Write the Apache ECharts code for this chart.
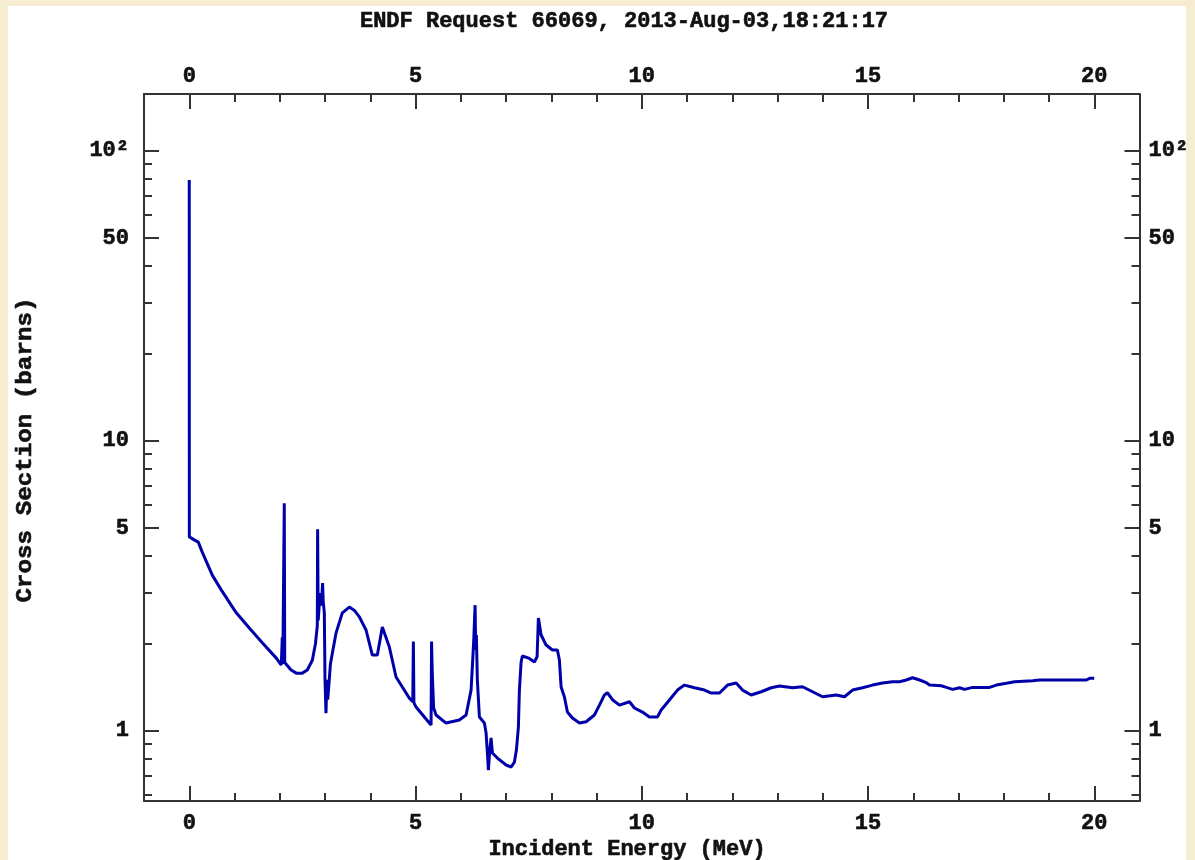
<!DOCTYPE html>
<html>
<head>
<meta charset="utf-8">
<title>ENDF Request 66069</title>
<script src="https://cdn.jsdelivr.net/npm/echarts@6/dist/echarts.min.js"></script>
<style>
  html, body { margin: 0; padding: 0; width: 1195px; height: 860px; overflow: hidden; background: #f6ecd0; }
  #panel { position: absolute; left: 8px; top: 6px; width: 1178px; height: 854px; background: #ffffff; }
  #chart { position: absolute; left: 0; top: 0; width: 1195px; height: 860px; }
</style>
</head>
<body>
<div id="panel"></div>
<div id="chart"></div>
<script>
// Incident neutron energy (MeV) and cross section (barns)
const energy = [
  0.0, 0.002, 0.11, 0.13, 0.2, 0.287, 0.509, 0.707, 1.039, 1.327, 1.614, 1.924, 2.034,
  2.045, 2.056, 2.068, 2.09, 2.10, 2.11, 2.145, 2.25, 2.366, 2.498, 2.609, 2.72, 2.79, 2.83,
  2.837, 2.85, 2.89, 2.92, 2.947, 2.96, 2.985, 3.0, 3.022, 3.04, 3.06, 3.08, 3.12, 3.162,
  3.243, 3.383, 3.537, 3.65, 3.759, 3.907, 4.046, 4.157, 4.267, 4.422, 4.57, 4.709, 4.864,
  4.94, 4.953, 4.965, 5.012, 5.196, 5.344, 5.355, 5.37, 5.40, 5.454, 5.675, 5.969, 6.118,
  6.228, 6.26, 6.29, 6.317, 6.33, 6.345, 6.367, 6.412, 6.522, 6.56, 6.589, 6.611, 6.64,
  6.67, 6.699, 6.81, 7.002, 7.113, 7.186, 7.23, 7.274, 7.296, 7.334, 7.362, 7.5, 7.628,
  7.687, 7.716, 7.776, 7.886, 8.026, 8.136, 8.18, 8.218, 8.291, 8.357, 8.468, 8.623, 8.771,
  8.954, 9.065, 9.175, 9.242, 9.36, 9.507, 9.728, 9.839, 10.015, 10.17, 10.347, 10.429,
  10.612, 10.789, 10.944, 11.165, 11.386, 11.534, 11.718, 11.895, 12.087, 12.226, 12.419,
  12.64, 12.861, 13.045, 13.332, 13.553, 13.774, 13.995, 14.298, 14.481, 14.658, 14.879,
  15.1, 15.321, 15.542, 15.697, 15.845, 15.985, 16.14, 16.288, 16.361, 16.62, 16.731, 16.87,
  17.024, 17.135, 17.311, 17.687, 17.836, 18.057, 18.24, 18.638, 18.793, 19.825, 19.898, 20.0
];
const crossSection = [
  79.2, 4.66, 4.55, 4.60, 4.47, 4.13, 3.44, 3.06, 2.55, 2.26, 2.01, 1.78, 1.685,
  1.69, 2.10, 1.70, 1.70, 6.08, 1.72, 1.71, 1.62, 1.58, 1.58, 1.62, 1.75, 2.0, 2.3,
  4.95, 2.4, 2.985, 2.7, 3.23, 2.8, 2.55, 1.5, 1.15, 1.50, 1.28, 1.40, 1.7, 1.85,
  2.17, 2.55, 2.67, 2.60, 2.47, 2.225, 1.824, 1.824, 2.279, 1.944, 1.532, 1.415, 1.296,
  1.26, 2.03, 1.25, 1.207, 1.115, 1.046, 2.03, 1.60, 1.20, 1.133, 1.063, 1.089, 1.133,
  1.381, 1.7, 2.1, 2.71, 1.9, 2.138, 1.496, 1.115, 1.063, 0.982, 0.838, 0.732, 0.85,
  0.944, 0.838, 0.805, 0.762, 0.750, 0.780, 0.858, 1.030, 1.381, 1.726, 1.810, 1.78, 1.726,
  1.80, 2.447, 2.138, 1.975, 1.898, 1.898, 1.753, 1.415, 1.307, 1.160, 1.106, 1.063, 1.074,
  1.133, 1.226, 1.328, 1.352, 1.276, 1.226, 1.259, 1.198, 1.160, 1.115, 1.115, 1.179,
  1.276, 1.381, 1.437, 1.407, 1.381, 1.349, 1.349, 1.437, 1.460, 1.381, 1.328,
  1.363, 1.407, 1.426, 1.407, 1.418, 1.363, 1.310, 1.328, 1.310, 1.381, 1.407,
  1.437, 1.460, 1.476, 1.476, 1.496, 1.523, 1.496, 1.464, 1.437, 1.429, 1.411, 1.389,
  1.407, 1.389, 1.411, 1.411, 1.437, 1.457, 1.476, 1.488, 1.496, 1.496, 1.516, 1.516
];

// Tick positions
const xMajorTicks = [0, 5, 10, 15, 20];
const xMinorTicks = [-1, 1, 2, 3, 4, 6, 7, 8, 9, 11, 12, 13, 14, 16, 17, 18, 19, 21];
const yMajorTicks = [1, 5, 10, 50, 100];
const yMinorTicks = [0.6, 0.7, 0.8, 0.9, 2, 3, 4, 6, 7, 8, 9, 20, 30, 40, 60, 70, 80, 90];

const titleText = 'ENDF Request 66069, 2013-Aug-03,18:21:17';
const xName = 'Incident Energy (MeV)';
const yName = 'Cross Section (barns)';

const X_MIN = -1, X_MAX = 21;
const Y_MIN = 0.5725, Y_MAX = 156.8;

const FONT = '"Liberation Mono", "DejaVu Sans Mono", monospace';
const AXIS_COLOR = '#333333';
const TEXT_COLOR = '#111111';
const labelStyle = {
  fontFamily: FONT, fontWeight: 'bold', fontSize: 22, color: TEXT_COLOR,
  textBorderColor: TEXT_COLOR, textBorderWidth: 0.6
};

function yLabel(v) {
  const r = Math.round(v * 1000) / 1000;
  return r === 100 ? '10²' : String(r);
}

function xAxisDef(position, major) {
  return {
    type: 'value', position: position, min: X_MIN, max: X_MAX,
    axisLine: { show: major, onZero: false, lineStyle: { color: AXIS_COLOR, width: 2 } },
    axisTick: { show: true, inside: true, length: major ? 15 : 8,
      customValues: major ? xMajorTicks : xMinorTicks,
      lineStyle: { color: AXIS_COLOR, width: 2 } },
    axisLabel: major ? Object.assign({ show: true, customValues: xMajorTicks,
      margin: position === 'bottom' ? 11 : 7 }, labelStyle) : { show: false },
    splitLine: { show: false }
  };
}

function yAxisDef(position, major) {
  return {
    type: 'log', logBase: 10, position: position, min: Y_MIN, max: Y_MAX,
    axisLine: { show: major, onZero: false, lineStyle: { color: AXIS_COLOR, width: 2 } },
    axisTick: { show: true, inside: true, length: major ? 15 : 8,
      customValues: major ? yMajorTicks : yMinorTicks,
      lineStyle: { color: AXIS_COLOR, width: 2 } },
    axisLabel: major ? Object.assign({ show: true, customValues: yMajorTicks,
      margin: position === 'left' ? 15 : 9, formatter: yLabel }, labelStyle) : { show: false },
    splitLine: { show: false },
    minorTick: { show: false }
  };
}

const seriesData = energy.map((e, i) => [e, crossSection[i]]);

const textStyle = {
  font: 'bold 22px ' + FONT, fill: TEXT_COLOR, stroke: TEXT_COLOR, lineWidth: 0.6,
  align: 'center', verticalAlign: 'middle'
};

const chart = echarts.init(document.getElementById('chart'), null, { renderer: 'canvas' });
chart.setOption({
  animation: false,
  backgroundColor: 'transparent',
  grid: { left: 144, right: 55.5, top: 94, bottom: 59, outerBoundsMode: 'none', containLabel: false },
  xAxis: [
    xAxisDef('bottom', true),
    xAxisDef('top', true),
    xAxisDef('bottom', false),
    xAxisDef('top', false)
  ],
  yAxis: [
    yAxisDef('left', true),
    yAxisDef('right', true),
    yAxisDef('left', false),
    yAxisDef('right', false)
  ],
  series: [{
    type: 'line',
    xAxisIndex: 0,
    yAxisIndex: 0,
    data: seriesData,
    showSymbol: false,
    symbol: 'none',
    lineStyle: { color: '#0000aa', width: 3 },
    z: 1
  }],
  graphic: [
    { type: 'text', x: 624, y: 21, style: Object.assign({ text: titleText }, textStyle) },
    { type: 'text', x: 627, y: 849, style: Object.assign({ text: xName }, textStyle) },
    { type: 'text', x: 25, y: 450, rotation: Math.PI / 2, scaleX: 1.1,
      style: Object.assign({ text: yName }, textStyle) }
  ]
});
</script>
</body>
</html>
